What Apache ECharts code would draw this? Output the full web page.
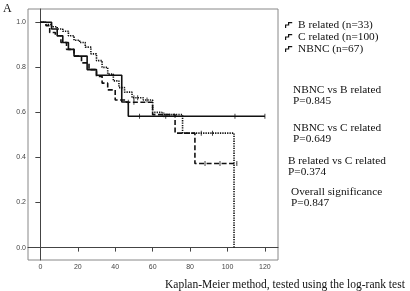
<!DOCTYPE html>
<html>
<head>
<meta charset="utf-8">
<script src="https://cdn.jsdelivr.net/npm/echarts@6/dist/echarts.min.js"></script>
<style>
html, body { margin: 0; padding: 0; background: #fff; }
#chart { width: 410px; height: 291px; }
</style>
</head>
<body>
<div id="chart"></div>
<script>
// survival curves, [months, survival after the step]
const bRelated = [[0, 1.0], [6, 0.97], [9, 0.94], [12, 0.91], [15, 0.88], [18, 0.85], [25, 0.79], [30, 0.765], [43.5, 0.646], [47, 0.583], [120, 0.583]]
const cRelated = [[0, 1.0], [3, 0.99], [6, 0.98], [9, 0.97], [12, 0.96], [15, 0.94], [18, 0.92], [21, 0.91], [24, 0.89], [27, 0.86], [30, 0.83], [33, 0.80], [36, 0.77], [39, 0.74], [42, 0.71], [45, 0.69], [49, 0.665], [55, 0.655], [60, 0.60], [65, 0.59], [76, 0.508], [103.5, 0.0]]
const nbnc = [[0, 1.0], [3, 0.985], [5, 0.955], [8, 0.94], [11, 0.91], [14, 0.88], [18, 0.85], [22, 0.82], [26, 0.79], [30, 0.76], [33, 0.73], [36, 0.70], [40, 0.655], [46, 0.645], [60, 0.59], [72, 0.508], [82.6, 0.373], [105, 0.373]]

// censored times
const bCensor = [53, 67, 104, 120]
const cCensor = [50, 52, 57, 86, 92]
const nCensor = [47, 50, 66, 88, 96, 105]

const seriesNames = ['B related (n=33)', 'C related (n=100)', 'NBNC (n=67)']
const xTicks = [0, 20, 40, 60, 80, 100, 120]
const yTicks = [0, 0.2, 0.4, 0.6, 0.8, 1.0]

const pTexts = ['NBNC vs B related\nP=0.845', 'NBNC vs C related\nP=0.649', 'B related vs C related\nP=0.374', 'Overall significance\nP=0.847']
const caption = 'Kaplan-Meier method, tested using the log-rank test'
const panelLabel = 'A'

function survAt (curve, t) {
    let s = curve[0][1]
    for (const p of curve) {
        if (p[0] <= t) s = p[1]
    }
    return s
}

const serif = 'Liberation Serif'
const pPos = [[293, 85], [293, 123], [288, 156], [291, 187]]
const stepIcon = 'path://M0,10V4H5V0H12V2H7V6H2V10Z'

const titles = [
    { text: panelLabel, left: 3, top: 3, padding: 0, textStyle: { fontFamily: serif, fontSize: 12, fontWeight: 'normal', color: '#111' } },
    { text: caption, left: 165, top: 279, padding: 0, textStyle: { fontFamily: serif, fontSize: 11.5, fontWeight: 'normal', color: '#111' } }
]
pTexts.forEach((t, i) => {
    titles.push({
        text: t,
        left: pPos[i][0],
        top: pPos[i][1],
        padding: 0,
        textStyle: { fontFamily: serif, fontSize: 11.3, fontWeight: 'normal', color: '#111', lineHeight: 11 }
    })
})

const curves = [bRelated, cRelated, nbnc]
const censors = [bCensor, cCensor, nCensor]
const lineTypes = ['solid', [1.3, 1.1], [5, 2.5]]

const series = []
curves.forEach((c, i) => {
    series.push({
        name: seriesNames[i],
        type: 'line',
        step: 'end',
        data: c,
        symbol: 'none',
        lineStyle: { color: '#111', width: 1.6, type: lineTypes[i] },
        itemStyle: { color: '#111' }
    })
    series.push({
        type: 'scatter',
        data: censors[i].map(t => [t, survAt(c, t)]),
        symbol: 'rect',
        symbolSize: [1, 5],
        itemStyle: { color: '#111' },
        silent: true
    })
})

const chart = echarts.init(document.getElementById('chart'))
chart.setOption({
    animation: false,
    title: titles,
    legend: {
        data: seriesNames.map(n => ({ name: n, icon: stepIcon })),
        orient: 'vertical',
        left: 285,
        top: 19,
        padding: 0,
        itemWidth: 9,
        itemHeight: 6,
        itemGap: 0,
        textStyle: { fontFamily: serif, fontSize: 11.3, color: '#111', lineHeight: 12 }
    },
    grid: {
        left: 28,
        top: 9,
        right: 132,
        bottom: 31,
        show: true,
        borderColor: '#888',
        borderWidth: 1
    },
    xAxis: {
        type: 'value',
        min: -6.6,
        max: 127,
        splitLine: { show: false },
        axisLine: { lineStyle: { color: '#444' } },
        axisTick: { customValues: xTicks, length: 4, lineStyle: { color: '#444' } },
        axisLabel: { customValues: xTicks, fontSize: 7, color: '#444', margin: 4, fontFamily: 'Liberation Sans' }
    },
    yAxis: {
        type: 'value',
        min: -0.055,
        max: 1.059,
        splitLine: { show: false },
        axisLine: { show: true, lineStyle: { color: '#444' } },
        axisTick: { show: true, customValues: yTicks, length: 5, lineStyle: { color: '#444' } },
        axisLabel: { customValues: yTicks, fontSize: 7, color: '#444', margin: 2, fontFamily: 'Liberation Sans', formatter: v => v.toFixed(1) }
    },
    series: series
})
</script>
</body>
</html>
